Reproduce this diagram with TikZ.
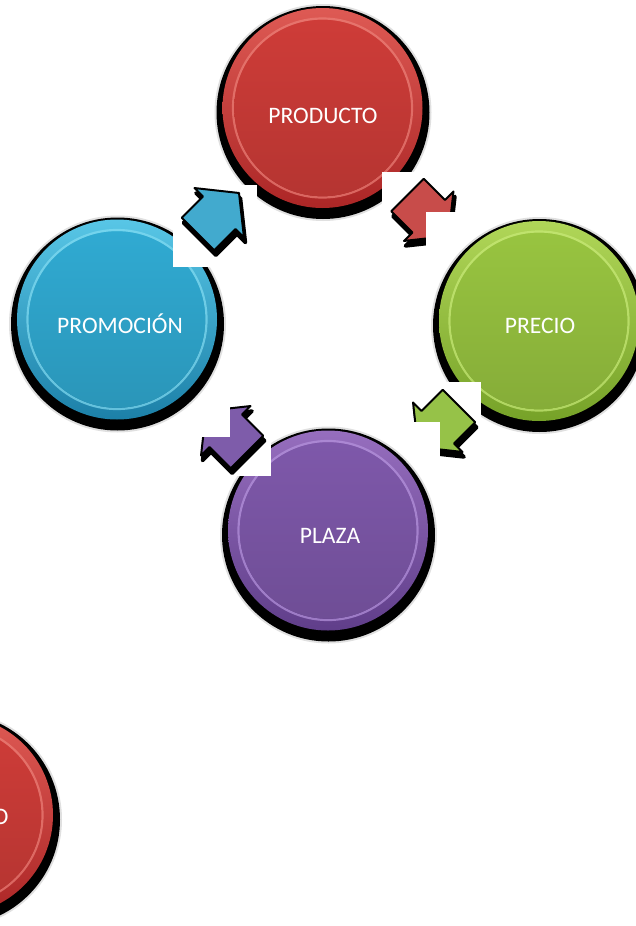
\documentclass[tikz,border=0pt]{standalone}
\usepackage{fontspec}
\setmainfont{Carlito}
\usetikzlibrary{calc}

% colours of the four marketing-mix discs
\definecolor{redTop}{RGB}{222,90,84}
\definecolor{redBot}{RGB}{172,38,38}
\definecolor{redRing}{RGB}{236,128,120}
\definecolor{redIn}{RGB}{206,60,56}
\definecolor{redArr}{RGB}{200,76,74}

\definecolor{bluTop}{RGB}{88,198,230}
\definecolor{bluBot}{RGB}{28,128,168}
\definecolor{bluRing}{RGB}{130,220,242}
\definecolor{bluIn}{RGB}{48,170,210}
\definecolor{bluArr}{RGB}{66,170,206}

\definecolor{grnTop}{RGB}{176,214,88}
\definecolor{grnBot}{RGB}{118,162,40}
\definecolor{grnRing}{RGB}{200,234,120}
\definecolor{grnIn}{RGB}{152,196,64}
\definecolor{grnArr}{RGB}{150,194,72}

\definecolor{purTop}{RGB}{150,110,190}
\definecolor{purBot}{RGB}{96,62,138}
\definecolor{purRing}{RGB}{182,148,222}
\definecolor{purIn}{RGB}{126,88,170}
\definecolor{purArr}{RGB}{126,92,170}

\tikzset{
  label text/.style={text=white, inner sep=0pt, anchor=base,
                     font=\fontsize{23.6}{28}\selectfont},
  paper/.style={fill=white},
}

% glossy disc with its dark drop shadow
% #1 centre, #2 outer top, #3 outer bottom, #4 ring, #5 inner face
\newcommand\discbody[5]{%
  \fill[black!12] ($(#1)+(0.5,4.5)$) circle (108.5);
  \fill[black] ($(#1)+(0.5,4.5)$) circle (106.5);
  \shade[top color=#2, bottom color=#3] (#1) circle (100);
  \draw[#4, line width=2.2, opacity=.7] (#1) circle (89.5);
  \shade[top color=#5, bottom color=#5!88!black] (#1) circle (88.2);
}

% stubby block arrow with a dark extruded shadow
% #1 back-edge midpoint, #2 direction (degrees), #3 fill colour
\newcommand\blockarrowpath{(0,-23) -- (30,-23) -- (30,-35) -- (58,0) -- (30,35) -- (30,23) -- (0,23) -- cycle}
\newcommand\blockarrow[3]{%
  \begin{scope}[shift={(#1)}, xshift=1.5pt, yshift=-5pt, rotate=#2]
    \filldraw[black, line width=3.5, line join=round] \blockarrowpath;
  \end{scope}
  \begin{scope}[shift={(#1)}, rotate=#2]
    \filldraw[fill=#3, draw=black, line width=2, line join=round] \blockarrowpath;
  \end{scope}
}

\begin{document}
\begin{tikzpicture}[x=1pt, y=-1pt]
\useasboundingbox (0,0) rectangle (636,926);
\fill[white] (0,0) rectangle (636,926);
\begin{scope}
\clip (0,0) rectangle (636,926);

% disc centres
\coordinate (cProducto)  at (322.5,108);
\coordinate (cPrecio)    at (539,321);
\coordinate (cPlaza)     at (328,530.5);
\coordinate (cPromocion) at (117,319.5);
\coordinate (cExtra)     at (-47,815);

% Producto
\discbody{cProducto}{redTop}{redBot}{redRing}{redIn}
\node[label text] (producto) at (323,123) {PRODUCTO};

% arrow Producto -> Precio
\fill[paper] (382,172) rectangle (466,254);
\blockarrow{407.5,195}{-45}{redArr}

% Precio
\fill[paper] (426,212) rectangle (636,440);
\discbody{cPrecio}{grnTop}{grnBot}{grnRing}{grnIn}
\node[label text] (precio) at (540,333) {PRECIO};

% arrow Precio -> Plaza
\fill[paper] (397,382) rectangle (481,464);
\blockarrow{459,406}{-135}{grnArr}

% Plaza
\fill[paper] (215,422) rectangle (440,650);
\discbody{cPlaza}{purTop}{purBot}{purRing}{purIn}
\node[label text] (plaza) at (330,543) {PLAZA};

% arrow Plaza -> Promocion
\fill[paper] (187,394) rectangle (271,476);
\blockarrow{247,452}{135}{purArr}

% Promocion
\fill[paper] (5,205) rectangle (230,437);
\discbody{cPromocion}{bluTop}{bluBot}{bluRing}{bluIn}
\node[label text] (promocion) at (120,333) {PROMOCIÓN};

% arrow Promocion -> Producto
\fill[paper] (173,185) rectangle (257,267);
\blockarrow{198,234}{45}{bluArr}

% disc running off the lower left edge
\discbody{cExtra}{redTop}{redBot}{redRing}{redIn}
\node[label text] (extra) at (-46,824) {PRODUCTO};

\end{scope}
\end{tikzpicture}
\end{document}
